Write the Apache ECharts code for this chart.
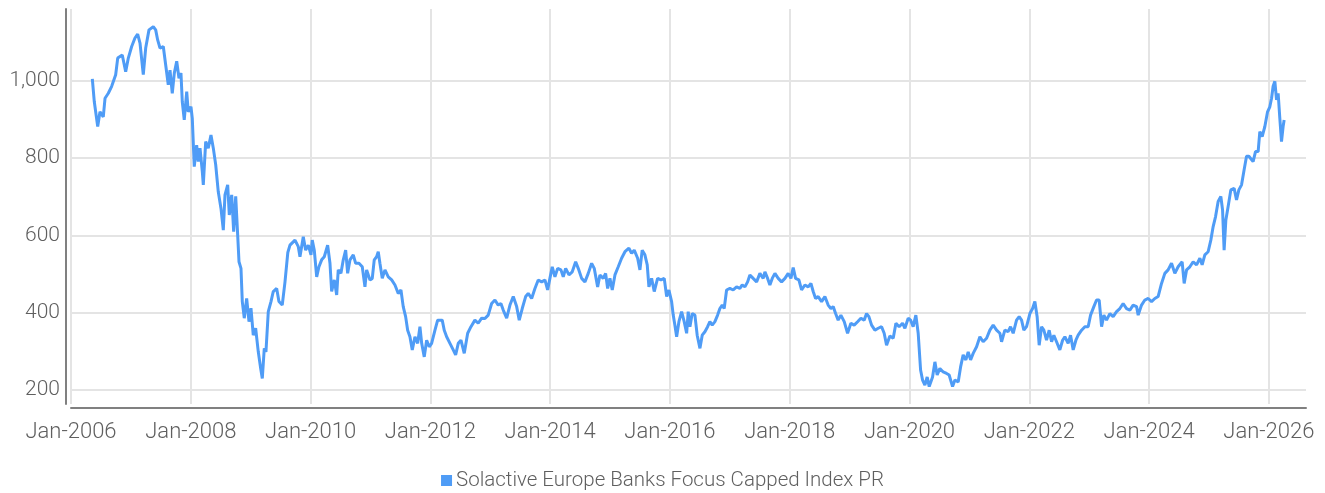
<!DOCTYPE html>
<html>
<head>
<meta charset="utf-8">
<script src="https://cdn.jsdelivr.net/npm/echarts@6/dist/echarts.min.js"></script>
<style>
html, body { margin: 0; padding: 0; background: #fff; }
#chart { width: 1325px; height: 493px; }
</style>
</head>
<body>
<div id="chart"></div>
<script>
var seriesName = 'Solactive Europe Banks Focus Capped Index PR';

// dates as decimal years
var years = [
  2006.356, 2006.389, 2006.446, 2006.484, 2006.539, 2006.568, 2006.623, 2006.679, 2006.746, 2006.780,
  2006.856, 2006.913, 2006.957, 2007.013, 2007.068, 2007.113, 2007.152, 2007.207, 2007.247, 2007.302,
  2007.374, 2007.414, 2007.447, 2007.486, 2007.541, 2007.581, 2007.624, 2007.653, 2007.691, 2007.725,
  2007.765, 2007.803, 2007.836, 2007.858, 2007.891, 2007.932, 2007.958, 2008.003, 2008.025, 2008.058,
  2008.098, 2008.125, 2008.154, 2008.192, 2008.209, 2008.249, 2008.292, 2008.337, 2008.376, 2008.416,
  2008.459, 2008.504, 2008.543, 2008.571, 2008.616, 2008.643, 2008.683, 2008.716, 2008.750, 2008.783,
  2008.805, 2008.838, 2008.860, 2008.893, 2008.933, 2008.972, 2009.005, 2009.043, 2009.083, 2009.127,
  2009.167, 2009.194, 2009.227, 2009.255, 2009.294, 2009.339, 2009.377, 2009.434, 2009.472, 2009.527,
  2009.573, 2009.620, 2009.656, 2009.684, 2009.740, 2009.795, 2009.823, 2009.878, 2009.918, 2009.962,
  2010.007, 2010.028, 2010.062, 2010.102, 2010.140, 2010.185, 2010.229, 2010.285, 2010.324, 2010.352,
  2010.396, 2010.436, 2010.462, 2010.507, 2010.546, 2010.586, 2010.619, 2010.658, 2010.713, 2010.753,
  2010.808, 2010.863, 2010.908, 2010.936, 2010.992, 2011.030, 2011.063, 2011.103, 2011.130, 2011.158,
  2011.197, 2011.242, 2011.297, 2011.354, 2011.409, 2011.464, 2011.509, 2011.547, 2011.587, 2011.621,
  2011.659, 2011.698, 2011.743, 2011.788, 2011.826, 2011.855, 2011.898, 2011.938, 2011.981, 2012.021,
  2012.077, 2012.122, 2012.160, 2012.198, 2012.232, 2012.272, 2012.327, 2012.382, 2012.422, 2012.466,
  2012.511, 2012.566, 2012.623, 2012.678, 2012.744, 2012.799, 2012.856, 2012.911, 2012.966, 2013.023,
  2013.078, 2013.133, 2013.178, 2013.217, 2013.274, 2013.329, 2013.384, 2013.441, 2013.484, 2013.534,
  2013.591, 2013.634, 2013.691, 2013.746, 2013.801, 2013.858, 2013.913, 2013.958, 2013.996, 2014.035,
  2014.080, 2014.125, 2014.180, 2014.219, 2014.259, 2014.314, 2014.369, 2014.426, 2014.469, 2014.526,
  2014.581, 2014.636, 2014.693, 2014.736, 2014.793, 2014.831, 2014.886, 2014.926, 2014.960, 2014.998,
  2015.037, 2015.082, 2015.137, 2015.193, 2015.249, 2015.315, 2015.360, 2015.404, 2015.461, 2015.499,
  2015.537, 2015.582, 2015.621, 2015.649, 2015.694, 2015.738, 2015.794, 2015.850, 2015.905, 2015.945,
  2015.983, 2016.028, 2016.055, 2016.083, 2016.112, 2016.150, 2016.195, 2016.238, 2016.279, 2016.305,
  2016.334, 2016.372, 2016.417, 2016.455, 2016.501, 2016.539, 2016.584, 2016.629, 2016.667, 2016.706,
  2016.751, 2016.796, 2016.834, 2016.873, 2016.906, 2016.946, 2017.001, 2017.056, 2017.113, 2017.168,
  2017.207, 2017.252, 2017.297, 2017.335, 2017.390, 2017.447, 2017.502, 2017.557, 2017.586, 2017.631,
  2017.669, 2017.708, 2017.753, 2017.808, 2017.864, 2017.920, 2017.975, 2018.020, 2018.058, 2018.098,
  2018.153, 2018.198, 2018.253, 2018.309, 2018.354, 2018.392, 2018.432, 2018.475, 2018.532, 2018.587,
  2018.642, 2018.687, 2018.726, 2018.766, 2018.809, 2018.854, 2018.910, 2018.966, 2019.021, 2019.076,
  2019.133, 2019.188, 2019.243, 2019.283, 2019.322, 2019.367, 2019.422, 2019.477, 2019.534, 2019.577,
  2019.617, 2019.672, 2019.728, 2019.773, 2019.827, 2019.884, 2019.923, 2019.978, 2020.018, 2020.061,
  2020.106, 2020.145, 2020.185, 2020.218, 2020.257, 2020.295, 2020.329, 2020.385, 2020.424, 2020.462,
  2020.507, 2020.562, 2020.619, 2020.662, 2020.719, 2020.758, 2020.813, 2020.853, 2020.896, 2020.941,
  2020.980, 2021.020, 2021.063, 2021.120, 2021.175, 2021.230, 2021.287, 2021.342, 2021.397, 2021.454,
  2021.509, 2021.537, 2021.592, 2021.647, 2021.687, 2021.731, 2021.787, 2021.831, 2021.871, 2021.909,
  2021.954, 2022.010, 2022.055, 2022.093, 2022.131, 2022.165, 2022.205, 2022.243, 2022.288, 2022.332,
  2022.372, 2022.410, 2022.455, 2022.510, 2022.556, 2022.594, 2022.649, 2022.689, 2022.733, 2022.778,
  2022.816, 2022.873, 2022.928, 2022.983, 2023.023, 2023.078, 2023.123, 2023.167, 2023.207, 2023.245,
  2023.290, 2023.345, 2023.400, 2023.457, 2023.512, 2023.567, 2023.624, 2023.679, 2023.734, 2023.791,
  2023.818, 2023.874, 2023.929, 2023.985, 2024.041, 2024.096, 2024.151, 2024.208, 2024.263, 2024.318,
  2024.375, 2024.430, 2024.485, 2024.552, 2024.586, 2024.626, 2024.681, 2024.736, 2024.793, 2024.848,
  2024.886, 2024.931, 2024.986, 2025.031, 2025.070, 2025.110, 2025.153, 2025.198, 2025.227, 2025.253,
  2025.282, 2025.320, 2025.365, 2025.420, 2025.460, 2025.499, 2025.544, 2025.587, 2025.627, 2025.666,
  2025.699, 2025.737, 2025.777, 2025.821, 2025.849, 2025.888, 2025.933, 2025.978, 2026.016, 2026.045,
  2026.071, 2026.100, 2026.128, 2026.155, 2026.183, 2026.211, 2026.238, 2026.255
];

var values = [
  1005, 946, 882, 920, 907, 955, 968, 986, 1016, 1059,
  1067, 1024, 1059, 1089, 1111, 1121, 1098, 1016, 1085, 1132,
  1140, 1132, 1106, 1085, 1089, 1041, 990, 1028, 968, 1020,
  1051, 1007, 1020, 946, 899, 972, 920, 933, 903, 778,
  834, 791, 826, 766, 731, 843, 826, 860, 826, 783,
  713, 670, 614, 705, 731, 653, 705, 610, 701, 601,
  532, 515, 429, 386, 437, 377, 412, 342, 360, 299,
  256, 230, 308, 299, 403, 429, 455, 463, 429, 420,
  480, 556, 575, 580, 588, 571, 545, 597, 562, 575,
  550, 588, 562, 493, 519, 537, 545, 575, 528, 455,
  485, 446, 511, 502, 537, 562, 502, 537, 550, 528,
  528, 519, 467, 511, 485, 489, 537, 545, 558, 528,
  489, 511, 493, 485, 472, 450, 459, 416, 390, 355,
  338, 304, 338, 321, 364, 321, 286, 329, 312, 321,
  355, 381, 381, 381, 355, 338, 321, 304, 291, 321,
  329, 295, 347, 364, 381, 373, 386, 385, 394, 424,
  433, 420, 424, 407, 386, 420, 442, 416, 381, 411,
  442, 450, 437, 463, 485, 480, 485, 459, 489, 519,
  493, 515, 511, 493, 515, 498, 506, 532, 515, 489,
  480, 502, 528, 515, 467, 498, 489, 502, 463, 489,
  459, 498, 519, 541, 558, 567, 554, 562, 541, 511,
  562, 550, 524, 467, 489, 455, 489, 485, 489, 442,
  459, 429, 394, 368, 338, 377, 403, 377, 347, 403,
  364, 398, 394, 342, 308, 342, 351, 364, 377, 368,
  377, 394, 411, 420, 411, 459, 463, 459, 467, 463,
  472, 467, 480, 498, 489, 480, 502, 489, 506, 489,
  472, 489, 502, 489, 480, 489, 502, 489, 517, 489,
  485, 459, 472, 467, 476, 455, 437, 442, 429, 442,
  420, 411, 416, 398, 381, 394, 377, 347, 373, 368,
  377, 386, 381, 398, 390, 368, 355, 360, 364, 347,
  316, 340, 334, 373, 364, 373, 360, 386, 381, 364,
  394, 347, 252, 226, 213, 234, 209, 234, 273, 239,
  256, 247, 243, 239, 209, 226, 221, 260, 291, 278,
  299, 278, 295, 312, 338, 325, 334, 355, 368, 355,
  347, 325, 355, 351, 364, 347, 381, 390, 381, 355,
  364, 398, 411, 429, 390, 316, 364, 355, 329, 355,
  325, 342, 325, 304, 329, 338, 321, 342, 304, 329,
  342, 355, 364, 364, 394, 416, 433, 433, 364, 394,
  381, 398, 390, 403, 411, 424, 411, 407, 420, 416,
  394, 420, 433, 437, 429, 437, 442, 476, 502, 511,
  528, 502, 519, 532, 476, 511, 519, 532, 524, 541,
  524, 550, 558, 588, 623, 649, 688, 701, 666, 562,
  640, 675, 718, 722, 692, 718, 731, 770, 805, 805,
  809, 791, 817, 817, 869, 856, 882, 920, 933, 955,
  986, 999, 951, 968, 903, 843, 882, 899
];

// x axis ticks (every second January)
var tickYears = [2006, 2008, 2010, 2012, 2014, 2016, 2018, 2020, 2022, 2024, 2026];

var lineColor = '#4f9cf6';
var textColor = '#5f5f5f';
var gridColor = '#e4e4e4';
var axisColor = '#808080';
var fontFamily = 'Roboto, "Noto Sans", sans-serif';

var data = [];
for (var i = 0; i < years.length; i++) {
  data.push([years[i], values[i]]);
}

var chart = echarts.init(document.getElementById('chart'));
var option = {
  animation: false,
  backgroundColor: '#fff',
  grid: {
    left: 71,
    right: 19,
    top: 9,
    bottom: 89,
    containLabel: false
  },
  legend: {
    data: [seriesName],
    top: 465,
    left: 'center',
    icon: 'rect',
    itemWidth: 11,
    itemHeight: 11,
    itemGap: 4,
    textStyle: {
      color: textColor,
      fontSize: 20.5,
      fontWeight: 300,
      fontFamily: fontFamily,
      padding: [0, 0, 0, -1]
    }
  },
  xAxis: {
    type: 'value',
    min: 2006,
    max: 2026.62,
    interval: 2,
    offset: 4,
    axisLine: { show: true, onZero: false, lineStyle: { color: axisColor, width: 2 } },
    axisTick: { show: false },
    splitLine: {
      show: true,
      showMaxLine: false,
      lineStyle: { color: gridColor, width: 2 }
    },
    axisLabel: {
      show: true,
      showMaxLabel: false,
      margin: 13,
      color: textColor,
      fontSize: 22,
      fontWeight: 300,
      fontFamily: fontFamily,
      formatter: function (v) {
        return tickYears.indexOf(v) >= 0 ? 'Jan-' + v : '';
      }
    }
  },
  yAxis: {
    type: 'value',
    min: 164,
    max: 1186,
    splitNumber: 5,
    offset: 5,
    axisLine: { show: true, lineStyle: { color: axisColor, width: 2 } },
    axisTick: { show: false },
    splitLine: {
      show: true,
      showMinLine: false,
      showMaxLine: false,
      lineStyle: { color: gridColor, width: 2 }
    },
    axisLabel: {
      showMinLabel: false,
      showMaxLabel: false,
      margin: 6,
      color: textColor,
      fontSize: 21,
      fontWeight: 300,
      fontFamily: fontFamily,
      formatter: function (v) {
        return v.toLocaleString('en-US');
      }
    }
  },
  series: [
    {
      name: seriesName,
      type: 'line',
      data: data,
      showSymbol: false,
      symbol: 'none',
      lineStyle: { color: lineColor, width: 3 },
      itemStyle: { color: lineColor }
    }
  ]
};
chart.setOption(option);
</script>
</body>
</html>
